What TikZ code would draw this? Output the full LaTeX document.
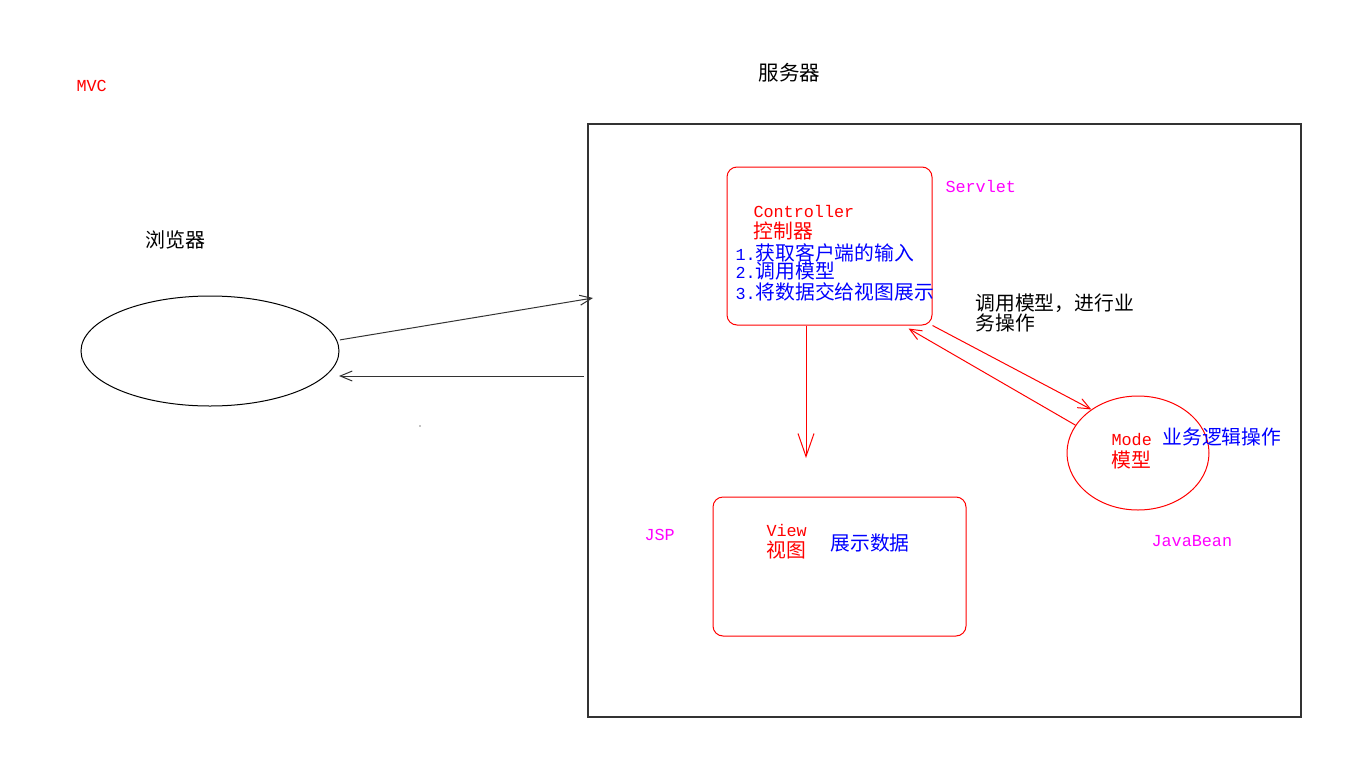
\documentclass[tikz,border=0pt]{standalone}
\usepackage{fontspec}
\setmainfont{Noto Sans CJK SC}
\setmonofont{Liberation Mono}
\usepackage{tikz}
\usetikzlibrary{arrows.meta,shapes.geometric}
\definecolor{mvcred}{HTML}{FF0000}
\definecolor{mvcblue}{HTML}{0000FF}
\definecolor{mvcpink}{HTML}{FF00FF}
\definecolor{mvcgray}{HTML}{333333}
\tikzset{
  box/.style={draw=mvcred,rounded corners=10pt,inner sep=0pt},
  oval/.style={ellipse,inner sep=0pt},
  zh/.style={anchor=west,inner sep=0pt,font=\fontsize{19.8}{22}\selectfont},
  tt/.style={anchor=west,inner sep=0pt,font=\fontsize{16.8}{18}\selectfont\ttfamily},
  barb/.style={-{Straight Barb[length=12pt,width=10pt]}},
  bigbarb/.style={-{Straight Barb[length=23pt,width=16pt]}}
}

\begin{document}
\begin{tikzpicture}[x=1pt,y=-1pt,line width=1pt]
    \useasboundingbox (0,0) rectangle (1345,774);
    % rahmen und ovale
    \node[draw=mvcgray,line width=1.3pt,minimum width=713pt,minimum height=593pt,inner sep=0pt] (server) at (944.5,420.5) {};
    \node[oval,draw=black,minimum width=258pt,minimum height=110pt] (browser) at (210,351) {};
    \node[box,minimum width=205pt,minimum height=158pt] (ctrl) at (829.5,246) {};
    \node[box,minimum width=253pt,minimum height=139pt] (view) at (839.5,566.5) {};
    \node[oval,draw=mvcred,minimum width=142pt,minimum height=114pt] (model) at (1138,453) {};
    \fill (420,426) circle (0.6);
    % texte
    \node[tt,mvcred] (mvc) at (76,86) {MVC};
    \node[zh,font=\fontsize{20.5}{22}\selectfont] (srvlbl) at (758,73) {服务器};
    \node[zh,font=\fontsize{20}{22}\selectfont] (brlbl) at (145,240) {浏览器};
    \node[tt,mvcpink] (servlet) at (945,186) {Servlet};
    \node[tt,mvcred] (ctrlen) at (753,211) {Controller};
    \node[zh,mvcred] (ctrlzh) at (753,231) {控制器};
    \node[zh,mvcblue] (step1) at (735,253) {{\fontsize{16.8}{18}\ttfamily 1.}获取客户端的输入};
    \node[zh,mvcblue] (step2) at (735,271) {{\fontsize{16.8}{18}\ttfamily 2.}调用模型};
    \node[zh,mvcblue] (step3) at (735,292) {{\fontsize{16.8}{18}\ttfamily 3.}将数据交给视图展示};
    \node[zh] (call1) at (975,303) {调用模型，进行业};
    \node[zh] (call2) at (975,323) {务操作};
    \node[tt,mvcred] (modeen) at (1111,440) {Mode};
    \node[zh,mvcred] (modezh) at (1111,460) {模型};
    \node[zh,mvcblue] (logic) at (1162,437) {业务逻辑操作};
    \node[tt,mvcpink] (bean) at (1151,541) {JavaBean};
    \node[tt,mvcpink] (jsp) at (644,535) {JSP};
    \node[tt,mvcred] (viewen) at (766,530) {View};
    \node[zh,mvcred] (viewzh) at (766,550) {视图};
    \node[zh,mvcblue] (show) at (830,543) {展示数据};
    % pfeile
    \coordinate (srvin) at (593,298);
    \coordinate (srvout) at (584,376);
    \coordinate (brin) at (339,376);
    \coordinate (vtip) at (806,458);
    \draw[barb,black!80] ([xshift=3pt]browser.5) -- (srvin);
    \draw[barb,black!80] (srvout) -- (brin);
    \draw[bigbarb,mvcred] ([xshift=-23.5pt]ctrl.south) -- (vtip);
    \draw[barb,mvcred] (ctrl.south east) -- (model.137);
    \draw[barb,mvcred] (model.156) -- ([xshift=-24pt,yshift=-3pt]ctrl.south east);
  \end{tikzpicture}
\end{document}
